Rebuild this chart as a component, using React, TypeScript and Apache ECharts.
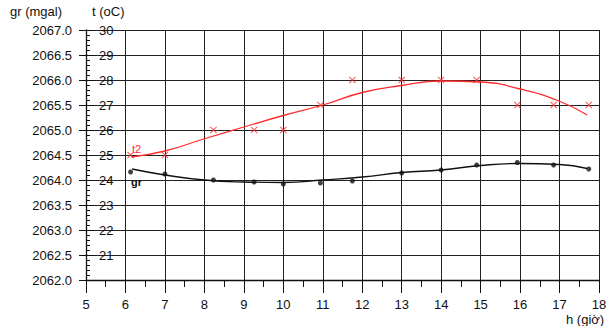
import React, { useEffect, useRef } from "react";
import * as echarts from "echarts";

// Measured points (hour of day)
const hours = [6.13, 7.0, 8.23, 9.26, 10.0, 10.94, 11.75, 13.0, 14.0, 14.9, 15.93, 16.85, 17.74];
const temperature = [25, 25, 26, 26, 26, 27, 28, 28, 28, 28, 27, 27, 27];
const gravity = [2064.16, 2064.12, 2064.0, 2063.96, 2063.92, 2063.94, 2063.98, 2064.14, 2064.2, 2064.3, 2064.35, 2064.3, 2064.22];

// Fitted trend curves
const tempTrendHours = [6.15, 7.0, 8.0, 9.0, 10.0, 11.0, 12.0, 13.0, 14.0, 15.0, 16.0, 17.0, 17.7];
const tempTrend = [24.92, 25.16, 25.65, 26.12, 26.58, 27.0, 27.5, 27.78, 27.96, 27.92, 27.64, 27.15, 26.6];
const gravTrendHours = [6.17, 7.0, 8.0, 9.0, 10.0, 11.0, 12.0, 13.0, 14.0, 15.0, 16.0, 17.0, 17.7];
const gravTrend = [2064.22, 2064.1, 2064.0, 2063.96, 2063.95, 2064.0, 2064.06, 2064.15, 2064.2, 2064.29, 2064.33, 2064.31, 2064.23];

const grTicks = { min: 2062, max: 2067, step: 0.5 };
const tTicks = { min: 20, max: 30, step: 1 };
const hourTicks = { min: 5, max: 18, step: 1 };

const RED = "#ff2b2b";
const INK = "#111111";
const GRID = "#222222";
const FONT = "Liberation Sans, Arial, sans-serif";
const CROSS = "path://M0,1L1,0L5,4L9,0L10,1L6,5L10,9L9,10L5,6L1,10L0,9L4,5Z";

export default function App() {
  const ref = useRef<HTMLDivElement>(null);
  useEffect(() => {
    if (!ref.current) return;
    const chart = echarts.init(ref.current, undefined, { renderer: "svg" });
    const zip = (xs: number[], ys: number[]) => xs.map((x, i) => [x, ys[i]]);
    chart.setOption({
      animation: false,
      backgroundColor: "#ffffff",
      textStyle: { fontFamily: FONT },
      grid: { left: 86, right: 12, top: 30, bottom: 46 },
      xAxis: {
        type: "value",
        min: hourTicks.min,
        max: hourTicks.max,
        interval: hourTicks.step,
        axisLine: { show: true, lineStyle: { color: INK, width: 1.3 } },
        axisTick: { show: true, length: 13, lineStyle: { color: INK } },
        minorTick: { show: true, splitNumber: 2, length: 7, lineStyle: { color: INK } },
        axisLabel: { margin: 18, fontSize: 13, color: INK, fontFamily: FONT },
        splitLine: { show: true, lineStyle: { color: GRID, width: 1 } },
      },
      yAxis: [
        {
          type: "value",
          position: "left",
          min: grTicks.min,
          max: grTicks.max,
          interval: grTicks.step,
          axisLine: { show: true, lineStyle: { color: INK, width: 1.3 } },
          axisTick: { show: true, length: 7, lineStyle: { color: INK } },
          axisLabel: {
            margin: 14,
            fontSize: 13,
            color: INK,
            fontFamily: FONT,
            formatter: (v: number) => v.toFixed(1),
          },
          splitLine: { show: true, lineStyle: { color: GRID, width: 1 } },
        },
        {
          type: "value",
          position: "left",
          offset: 0,
          min: tTicks.min,
          max: tTicks.max,
          interval: tTicks.step,
          axisLine: { show: false },
          axisTick: { show: true, inside: true, length: 8, lineStyle: { color: INK } },
          minorTick: { show: true, splitNumber: 5, length: 4, lineStyle: { color: INK } },
          axisLabel: {
            inside: true,
            margin: 13,
            fontSize: 13,
            color: INK,
            fontFamily: FONT,
            formatter: (v: number) => (v === tTicks.min ? "" : String(v)),
          },
          splitLine: { show: false },
        },
      ],
      series: [
        {
          type: "line",
          yAxisIndex: 1,
          data: zip(tempTrendHours, tempTrend),
          smooth: 0.5,
          showSymbol: false,
          lineStyle: { color: RED, width: 1.3 },
          z: 3,
        },
        {
          type: "scatter",
          yAxisIndex: 1,
          data: zip(hours, temperature),
          symbol: CROSS,
          symbolSize: 7,
          itemStyle: { color: RED },
          z: 4,
        },
        {
          type: "line",
          yAxisIndex: 0,
          data: zip(gravTrendHours, gravTrend),
          smooth: 0.5,
          showSymbol: false,
          lineStyle: { color: INK, width: 1.3 },
          z: 3,
        },
        {
          type: "scatter",
          yAxisIndex: 0,
          data: zip(hours, gravity),
          symbol: "circle",
          symbolSize: 5,
          itemStyle: { color: INK },
          z: 4,
        },
      ],
      graphic: [
        { type: "text", left: 10, top: 5, style: { text: "gr (mgal)", fontSize: 13, fill: INK, fontFamily: FONT } },
        { type: "text", left: 92, top: 5, style: { text: "t (oC)", fontSize: 13, fill: INK, fontFamily: FONT } },
        { type: "text", left: 566, top: 313, style: { text: "h (giờ)", fontSize: 13, fill: INK, fontFamily: FONT } },
        { type: "text", left: 132, top: 143, style: { text: "t2", fontSize: 11, fill: RED, fontFamily: FONT } },
        { type: "text", left: 131, top: 176, style: { text: "gr", fontSize: 11, fontWeight: "bold", fill: INK, fontFamily: FONT } },
      ],
    });
    return () => chart.dispose();
  }, []);
  return (
    <div
      ref={ref}
      style={{ position: "fixed", left: 0, top: 0, width: 611, height: 326 }}
    />
  );
}
